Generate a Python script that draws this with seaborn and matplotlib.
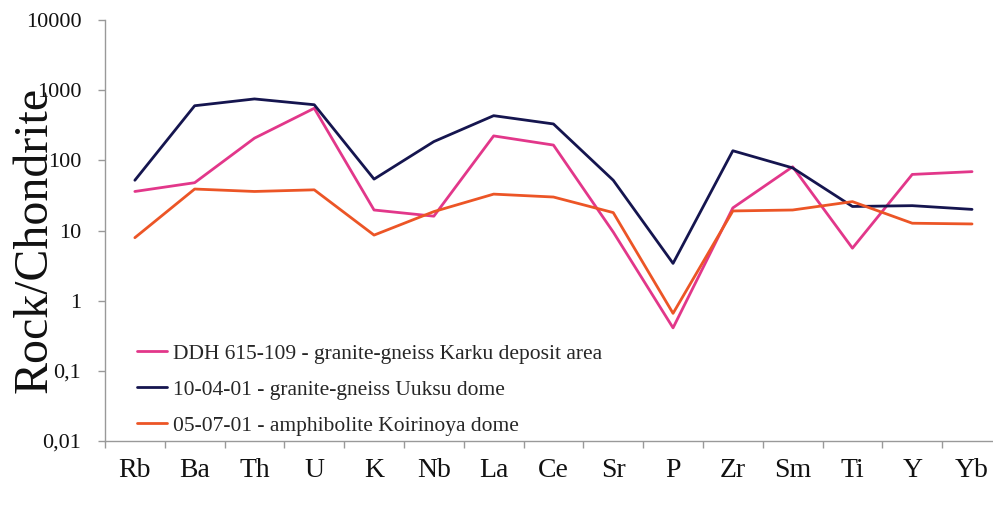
import matplotlib
matplotlib.use("Agg")
import matplotlib.pyplot as plt
from matplotlib.ticker import FixedLocator, NullFormatter
import numpy as np
import pandas as pd
import seaborn as sns

# Trace elements, normalised to chondrite
elements = ["Rb", "Ba", "Th", "U", "K", "Nb", "La", "Ce", "Sr", "P",
            "Zr", "Sm", "Ti", "Y", "Yb"]

karku = [36, 48, 207, 552, 19.6, 16, 223, 165, 9.5, 0.41,
         21, 81, 5.6, 63, 69]
uuksu = [52, 600, 750, 620, 54, 185, 433, 330, 52, 3.4,
         137, 78, 22, 22.6, 20]
koirinoya = [7.9, 39, 36, 38, 8.6, 18.6, 33, 30, 18, 0.66,
             19, 19.6, 25.8, 12.7, 12.4]

series_names = [
    "DDH 615-109 - granite-gneiss Karku deposit area",
    "10-04-01 - granite-gneiss Uuksu dome",
    "05-07-01 - amphibolite Koirinoya dome",
]
series_colors = ["#E2378A", "#15154F", "#EC5526"]

y_ticks = [0.01, 0.1, 1, 10, 100, 1000, 10000]
y_tick_labels = ["0,01", "0,1", "1", "10", "100", "1000", "10000"]

frames = []
for name, vals in zip(series_names, [karku, uuksu, koirinoya]):
    frames.append(pd.DataFrame({"element": elements, "value": vals, "sample": name}))
df = pd.concat(frames, ignore_index=True)
df["pos"] = df["element"].map({e: i for i, e in enumerate(elements)})

sns.set_style("white")
plt.rcParams["font.family"] = ["Liberation Serif", "DejaVu Serif"]

fig = plt.figure(figsize=(9.93, 5.05), dpi=100)
ax = fig.add_axes([0.1057, 0.1267, 0.9033, 0.8337])

sns.lineplot(data=df, x="pos", y="value", hue="sample", hue_order=series_names,
             palette=series_colors, sort=False, linewidth=2.0, ax=ax,
             legend=False)

ax.set_yscale("log")
ax.set_ylim(0.01, 10000)
ax.set_xlim(-0.5, len(elements) - 0.5)

ax.yaxis.set_major_locator(FixedLocator(y_ticks))
ax.yaxis.set_minor_locator(FixedLocator([]))
ax.set_yticklabels(y_tick_labels, fontsize=16)

# category boundaries carry the tick marks, names sit between them
ax.xaxis.set_major_locator(FixedLocator(np.arange(-0.5, len(elements), 1.0)))
ax.xaxis.set_major_formatter(NullFormatter())
ax.xaxis.set_minor_locator(FixedLocator(np.arange(len(elements))))
ax.set_xticklabels(elements, minor=True, fontsize=20)
ax.tick_params(axis="x", which="minor", length=0, pad=12, labelcolor="#111111")
ax.tick_params(axis="x", which="major", length=5, width=1, color="#999999",
               direction="out", bottom=True)
ax.tick_params(axis="y", which="major", length=5, width=1, color="#999999",
               direction="out", left=True, pad=12, labelcolor="#111111")

for side in ["top", "right"]:
    ax.spines[side].set_visible(False)
for side in ["left", "bottom"]:
    ax.spines[side].set_color("#999999")
    ax.spines[side].set_linewidth(1.0)

ax.set_xlabel("")
ax.set_ylabel("Rock/Chondrite", fontsize=34.5, color="#111111")
ax.yaxis.set_label_coords(-0.079, 0.477)
ax.yaxis.label.set_verticalalignment("center")

handles = [plt.Line2D([], [], color=c, linewidth=2.0) for c in series_colors]
ax.legend(handles, series_names, loc="lower left", bbox_to_anchor=(0.0357, 0.012),
          frameon=False, fontsize=15.5, handlelength=1.4, handletextpad=0.25,
          labelspacing=0.74, borderpad=0, borderaxespad=0)

fig.savefig("out.png", dpi=100, facecolor="white")
